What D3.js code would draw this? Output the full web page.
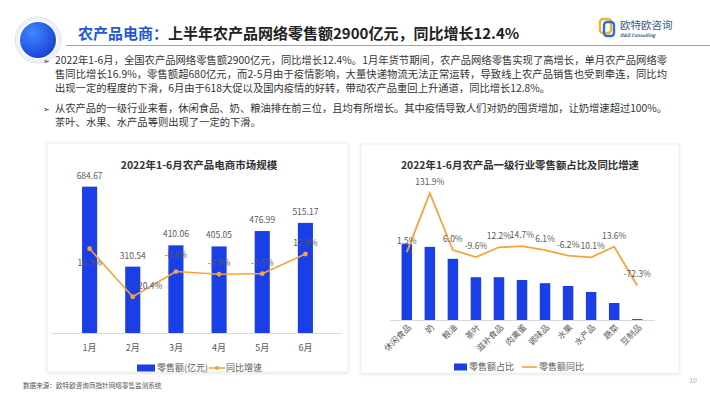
<!DOCTYPE html>
<html>
<head>
<meta charset="utf-8">
<script src="https://cdn.jsdelivr.net/npm/d3@7"></script>
<style>
  body { margin: 0; background: #fff; }
  text { font-family: "Noto Sans CJK SC", "Noto Sans", sans-serif; }
</style>
</head>
<body>
<div id="page"></div>
<script>
// left chart data
var months = ['1月', '2月', '3月', '4月', '5月', '6月'];
var sales = [684.67, 310.54, 410.06, 405.05, 476.99, 515.17]; // 亿元
var salesGrowth = [16.9, -20.4, -0.8, -2.9, -2.5, 12.8]; // %

// right chart data
var cats = ['休闲食品', '奶', '粮油', '茶叶', '滋补食品', '肉禽蛋', '调味品', '水果', '水产品', '蔬菜', '豆制品'];
var catShare = [16.5, 15.9, 13.3, 9.3, 9.3, 8.7, 8.0, 7.4, 6.1, 3.7, 0.2];
var catGrowth = [1.5, 131.9, 6.0, -9.6, 12.2, 14.7, 6.1, -6.2, -10.1, 13.6, -72.3]; // %

var title1 = '农产品电商：';
var title2 = '上半年农产品网络零售额2900亿元，同比增长12.4%';
var bodyLines = [
  '2022年1-6月，全国农产品网络零售额2900亿元，同比增长12.4%。1月年货节期间，农产品网络零售实现了高增长，单月农产品网络零',
  '售同比增长16.9%，零售额超680亿元，而2-5月由于疫情影响，大量快递物流无法正常运转，导致线上农产品销售也受到牵连，同比均',
  '出现一定的程度的下滑，6月由于618大促以及国内疫情的好转，带动农产品重回上升通道，同比增长12.8%。',
  '从农产品的一级行业来看，休闲食品、奶、粮油排在前三位，且均有所增长。其中疫情导致人们对奶的囤货增加，让奶增速超过100%。',
  '茶叶、水果、水产品等则出现了一定的下滑。'
];

var W = 710, H = 399;
var BLUE = '#1a3fe6', ORANGE = '#f5a43a', LABEL = '#595959';

var svg = d3.select('#page').append('svg')
  .attr('width', W)
  .attr('height', H);

var defs = svg.append('defs');
var grad = defs.append('radialGradient').attr('id', 'ball')
  .attr('cx', '35%').attr('cy', '30%').attr('r', '75%');
grad.append('stop').attr('offset', '0%').attr('stop-color', '#3d8bff');
grad.append('stop').attr('offset', '100%').attr('stop-color', '#1b3fd6');
var shadow = defs.append('filter').attr('id', 'shadow')
  .attr('x', '-5%').attr('y', '-5%').attr('width', '110%').attr('height', '110%');
shadow.append('feDropShadow').attr('dx', 0).attr('dy', 1)
  .attr('stdDeviation', 1.5).attr('flood-color', '#000').attr('flood-opacity', 0.12);

drawHeader();
drawBody();
drawLeftChart();
drawRightChart();

svg.append('text')
  .attr('x', 23).attr('y', 388)
  .attr('font-size', 6.6).attr('fill', '#555')
  .text('数据来源：欧特欧咨询商指针网络零售监测系统');
svg.append('text')
  .attr('x', 697).attr('y', 383).attr('text-anchor', 'end')
  .attr('font-size', 7).attr('fill', '#aaa')
  .text('10');

function drawHeader(){
  svg.append('circle').attr('cx', 38).attr('cy', 40).attr('r', 23)
    .attr('fill', '#eef1fb').attr('stroke', '#dfe4f6').attr('stroke-width', 1);
  svg.append('circle').attr('cx', 38).attr('cy', 40).attr('r', 19.5)
    .attr('fill', '#fff');
  svg.append('circle').attr('cx', 38).attr('cy', 40).attr('r', 18)
    .attr('fill', 'url(#ball)');

  svg.append('line')
    .attr('x1', 66).attr('x2', W).attr('y1', 45.5).attr('y2', 45.5)
    .attr('stroke', '#8ea3cf').attr('stroke-width', 1);

  var t = svg.append('text')
    .attr('x', 78).attr('y', 39)
    .attr('font-size', 15).attr('font-weight', 'bold');
  t.append('tspan').attr('fill', '#2457d6').text(title1);
  t.append('tspan').attr('fill', '#222').text(title2);

  // logo
  var g = svg.append('g').attr('transform', 'translate(600,18)');
  g.append('rect').attr('x', 0).attr('y', 1).attr('width', 11).attr('height', 14).attr('rx', 3)
    .attr('fill', 'none').attr('stroke', '#f2b233').attr('stroke-width', 2.4);
  g.append('rect').attr('x', 4).attr('y', 4).attr('width', 10).attr('height', 14).attr('rx', 3)
    .attr('fill', 'none').attr('stroke', '#2a6fd8').attr('stroke-width', 2.4);
  g.append('text').attr('x', 20).attr('y', 11)
    .attr('font-size', 10.5).attr('fill', '#3a5a8c').text('欧特欧咨询');
  g.append('text').attr('x', 20).attr('y', 18.5)
    .attr('font-size', 4.5).attr('font-weight', 'bold').attr('font-style', 'italic')
    .attr('fill', '#3a5a8c').text('O&O Consulting');
}

function drawBody(){
  var ys = [64, 78, 92, 112, 126];
  var fits = [true, true, false, true, false];
  bodyLines.forEach(function(line, i){
    var t = svg.append('text')
      .attr('x', 55).attr('y', ys[i])
      .attr('font-size', 10.3).attr('fill', '#333')
      .text(line);
    if(fits[i]){
      t.attr('textLength', 612).attr('lengthAdjust', 'spacing');
    }
  });
  [ys[0], ys[3]].forEach(function(y){
    svg.append('text').attr('x', 43).attr('y', y)
      .attr('font-size', 8).attr('fill', '#333').text('➢');
  });
}

function panel(x, y, w, h){
  svg.append('rect')
    .attr('x', x).attr('y', y).attr('width', w).attr('height', h)
    .attr('fill', '#fff').attr('stroke', '#ececec').attr('stroke-width', 0.8)
    .attr('filter', 'url(#shadow)');
}

function drawLeftChart(){
  panel(47, 143, 301, 229);

  svg.append('text')
    .attr('x', 199).attr('y', 169).attr('text-anchor', 'middle')
    .attr('font-size', 10.5).attr('font-weight', 'bold').attr('fill', '#333')
    .text('2022年1-6月农产品电商市场规模');

  var x = d3.scaleBand().domain(months).range([54, 341]).padding(0.65);
  var yBar = d3.scaleLinear().domain([0, 800]).range([333, 162]);
  var yLine = d3.scaleLinear().domain([-40, 40]).range([322, 219]);

  svg.append('line')
    .attr('x1', 52).attr('x2', 342).attr('y1', 333.5).attr('y2', 333.5)
    .attr('stroke', '#d9d9d9');

  svg.selectAll('.barL')
    .data(sales)
  .enter()
    .append('rect')
      .attr('class', 'barL')
      .attr('x', function(d, i){ return x(months[i]); })
      .attr('y', function(d){ return yBar(d); })
      .attr('width', x.bandwidth())
      .attr('height', function(d){ return yBar(0) - yBar(d); })
      .attr('fill', BLUE);

  svg.selectAll('.barLabelL')
    .data(sales)
  .enter()
    .append('text')
      .attr('class', 'barLabelL')
      .attr('x', function(d, i){ return x(months[i]) + x.bandwidth() / 2; })
      .attr('y', function(d){ return yBar(d) - 8; })
      .attr('text-anchor', 'middle')
      .attr('font-size', 8.5).attr('fill', LABEL)
      .text(function(d){ return d.toFixed(2); });

  var cx = function(i){ return x(months[i]) + x.bandwidth() / 2; };
  var line = d3.line()
    .x(function(d, i){ return cx(i); })
    .y(function(d){ return yLine(d); });

  svg.append('path')
    .datum(salesGrowth)
    .attr('d', line)
    .attr('fill', 'none').attr('stroke', ORANGE).attr('stroke-width', 1.6);

  svg.selectAll('.dotL')
    .data(salesGrowth)
  .enter()
    .append('circle')
      .attr('cx', function(d, i){ return cx(i); })
      .attr('cy', function(d){ return yLine(d); })
      .attr('r', 2.4)
      .attr('fill', ORANGE);

  svg.selectAll('.pctL')
    .data(salesGrowth)
  .enter()
    .append('text')
      .attr('x', function(d, i){ return cx(i) + (i === 1 ? 16 : 0); })
      .attr('y', function(d, i){
        if(i === 0){ return yLine(d) + 17; }
        if(i === 2){ return yLine(d) - 14; }
        return yLine(d) - 8;
      })
      .attr('text-anchor', 'middle')
      .attr('font-size', 8.5).attr('fill', LABEL)
      .text(function(d){ return d.toFixed(1) + '%'; });

  svg.append('g')
    .attr('transform', 'translate(0,333)')
    .call(d3.axisBottom(x).tickSize(0).tickPadding(12))
    .call(function(g){
      g.select('.domain').remove();
      g.selectAll('text').attr('font-size', 9).attr('fill', LABEL)
        .attr('font-family', '"Noto Sans CJK SC", sans-serif');
    });

  // legend
  var lg = svg.append('g').attr('transform', 'translate(137,368)');
  lg.append('rect').attr('x', 0).attr('y', -3.5).attr('width', 18).attr('height', 7).attr('fill', BLUE);
  lg.append('text').attr('x', 20).attr('y', 3.2).attr('font-size', 9).attr('fill', LABEL).text('零售额(亿元)');
  lg.append('line').attr('x1', 72).attr('x2', 88).attr('y1', 0).attr('y2', 0)
    .attr('stroke', ORANGE).attr('stroke-width', 1.6);
  lg.append('circle').attr('cx', 80).attr('cy', 0).attr('r', 2).attr('fill', ORANGE);
  lg.append('text').attr('x', 89).attr('y', 3.2).attr('font-size', 9).attr('fill', LABEL).text('同比增速');
}

function drawRightChart(){
  panel(361, 144, 318, 229);

  svg.append('text')
    .attr('x', 520).attr('y', 169).attr('text-anchor', 'middle')
    .attr('font-size', 10.4).attr('font-weight', 'bold').attr('fill', '#333')
    .text('2022年1-6月农产品一级行业零售额占比及同比增速');

  var x = d3.scaleBand().domain(cats).range([389, 655]).padding(0.545);
  var yBar = d3.scaleLinear().domain([0, 20]).range([320, 228]);
  var yLine = d3.scaleLinear().domain([-100, 150]).range([298, 185]);
  var cx = function(i){ return x(cats[i]) + x.bandwidth() / 2; };

  svg.append('line')
    .attr('x1', 390).attr('x2', 655).attr('y1', 320.5).attr('y2', 320.5)
    .attr('stroke', '#d9d9d9');

  svg.selectAll('.barR')
    .data(catShare)
  .enter()
    .append('rect')
      .attr('x', function(d, i){ return x(cats[i]); })
      .attr('y', function(d){ return yBar(d); })
      .attr('width', x.bandwidth())
      .attr('height', function(d){ return yBar(0) - yBar(d); })
      .attr('fill', BLUE);

  var line = d3.line()
    .x(function(d, i){ return cx(i); })
    .y(function(d){ return yLine(d); });

  svg.append('path')
    .datum(catGrowth)
    .attr('d', line)
    .attr('fill', 'none').attr('stroke', ORANGE).attr('stroke-width', 1.8);

  svg.selectAll('.pctR')
    .data(catGrowth)
  .enter()
    .append('text')
      .attr('x', function(d, i){ return cx(i); })
      .attr('y', function(d){ return yLine(d) - 8; })
      .attr('text-anchor', 'middle')
      .attr('font-size', 8.5).attr('fill', LABEL)
      .text(function(d){ return d.toFixed(1) + '%'; });

  svg.selectAll('.catLabel')
    .data(cats)
  .enter()
    .append('text')
      .attr('text-anchor', 'end')
      .attr('font-size', 8.5).attr('fill', LABEL)
      .attr('transform', function(d, i){
        return 'translate(' + (cx(i) + 5) + ',' + 328 + ') rotate(-45)';
      })
      .text(function(d){ return d; });

  // legend
  var lg = svg.append('g').attr('transform', 'translate(454,367)');
  lg.append('rect').attr('x', 0).attr('y', -3.5).attr('width', 13).attr('height', 7).attr('fill', BLUE);
  lg.append('text').attr('x', 15).attr('y', 3.2).attr('font-size', 9).attr('fill', LABEL).text('零售额占比');
  lg.append('line').attr('x1', 68).attr('x2', 83).attr('y1', 0).attr('y2', 0)
    .attr('stroke', ORANGE).attr('stroke-width', 1.6);
  lg.append('text').attr('x', 85).attr('y', 3.2).attr('font-size', 9).attr('fill', LABEL).text('零售额同比');
}
</script>
</body>
</html>
